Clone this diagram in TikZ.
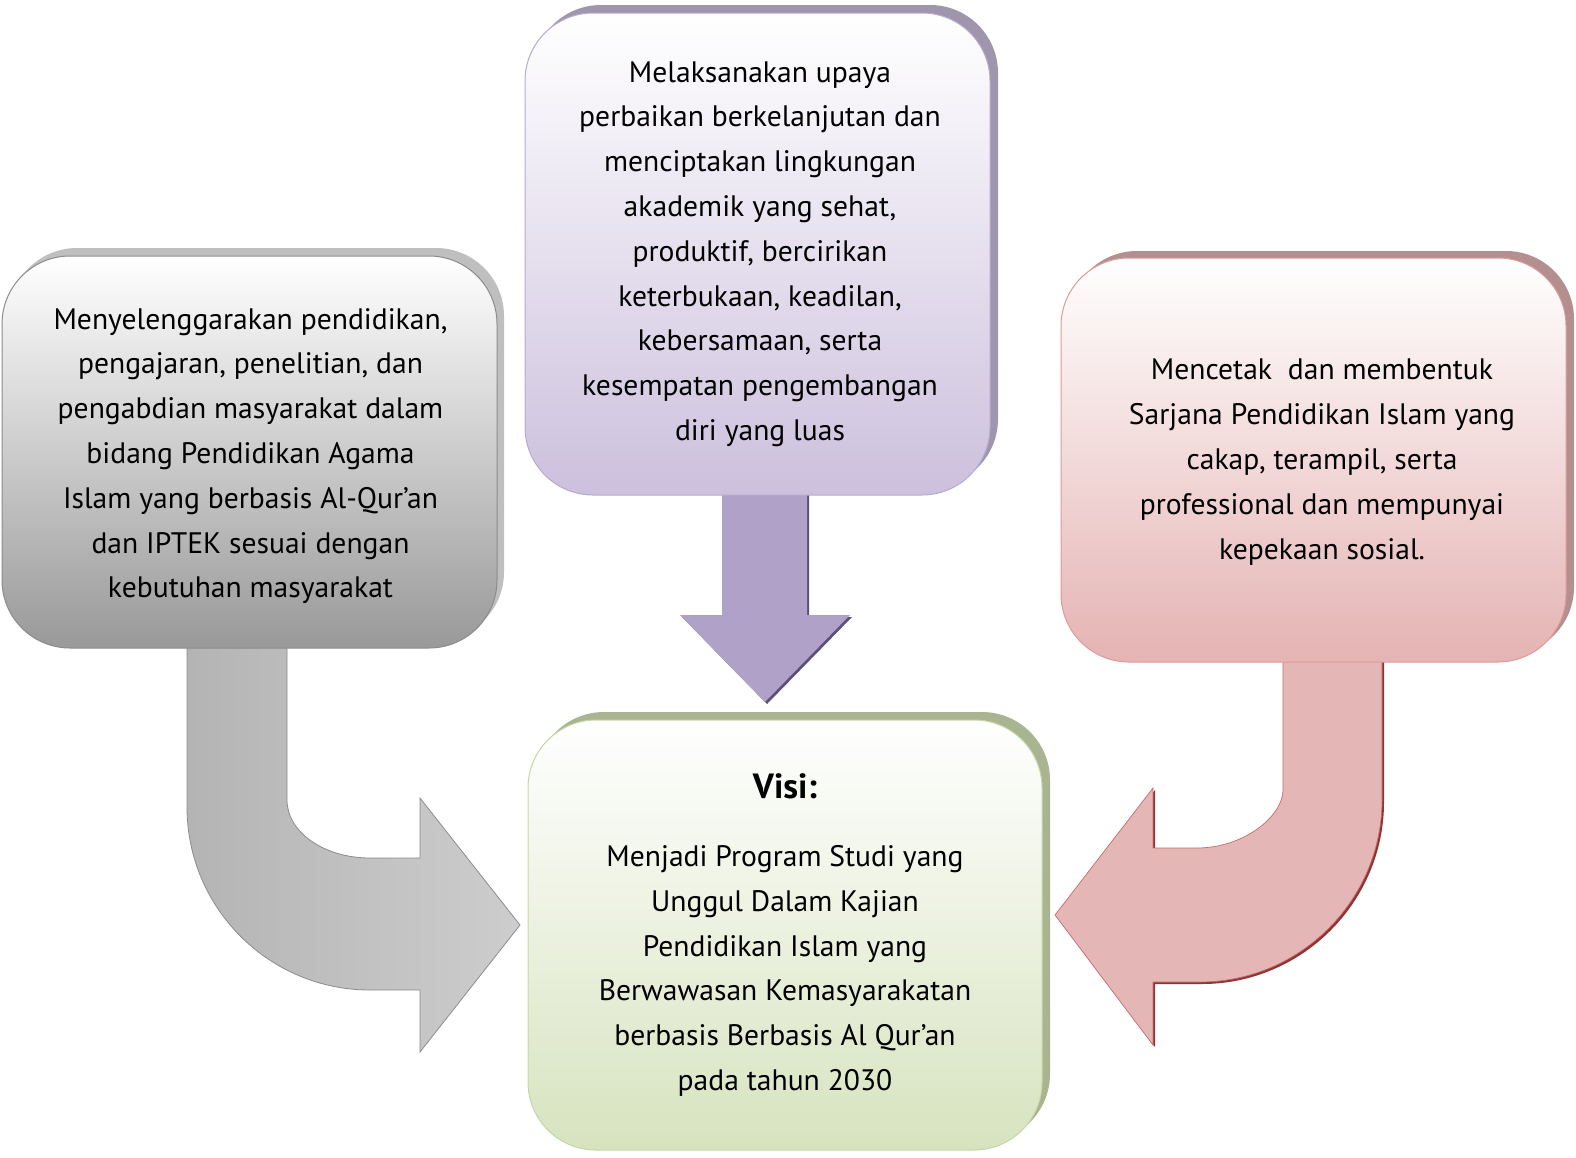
\documentclass[tikz,border=0pt]{standalone}
\usepackage{fontspec}
\setmainfont{PT Sans}
\definecolor{grayshadow}{HTML}{BFBFBF}
\definecolor{grayborder}{HTML}{8C8C8C}
\definecolor{graybottom}{HTML}{999999}
\definecolor{purpshadow}{HTML}{9F95AC}
\definecolor{purpborder}{HTML}{B8A9CF}
\definecolor{purpbottom}{HTML}{CCC0DD}
\definecolor{purparrow}{HTML}{B0A1C8}
\definecolor{purpedge}{HTML}{5E4E78}
\definecolor{pinkshadow}{HTML}{B38F8F}
\definecolor{pinkborder}{HTML}{E09A9A}
\definecolor{pinkbottom}{HTML}{E5B3B3}
\definecolor{pinkarrow}{HTML}{E5B6B6}
\definecolor{pinkedge}{HTML}{8E3434}
\definecolor{pinkline}{HTML}{C86A6A}
\definecolor{greenshadow}{HTML}{A9B591}
\definecolor{greenborder}{HTML}{C5D6A6}
\definecolor{greenbottom}{HTML}{D7E3BF}
\definecolor{grayarrowA}{HTML}{B4B4B4}
\definecolor{grayarrowB}{HTML}{CDCDCD}
\tikzset{
  boxshape/.style={rounded corners=68pt, line width=1pt},
  txt/.style={align=center, inner sep=0pt, font=\fontsize{29.6}{44.8}\selectfont},
}
\begin{document}
\begin{tikzpicture}[x=1pt,y=-1pt]
\useasboundingbox (0,0) rectangle (1576,1157);
% ---------- arrows ----------
% gray bent arrow
\shade[left color=grayarrowA, right color=grayarrowB, draw=grayborder, line width=0.8pt]
  (187,640) -- (287,640) -- (287,800) .. controls (287,832) and (324,858) .. (370,858)
  -- (420,858) -- (420,798) -- (520,925) -- (420,1052) -- (420,990) -- (370,990)
  .. controls (269,990) and (187,908) .. (187,807) -- cycle;
% purple down arrow
\fill[purpedge] (724,490) -- (809,490) -- (809,617) -- (852,617) -- (767,704) -- (682,617) -- (724,617) -- cycle;
\fill[purparrow] (722,490) -- (807,490) -- (807,615) -- (850,615) -- (765,702) -- (680,615) -- (722,615) -- cycle;
% pink bent arrow
\fill[pinkedge]
  (1285,655) -- (1384,655) -- (1384,802) .. controls (1384,902) and (1302,984) .. (1202,984)
  -- (1155,984) -- (1155,1047) -- (1057,917) -- (1155,790) -- (1155,850) -- (1199,850)
  .. controls (1246,850) and (1285,818) .. (1285,792) -- cycle;
\path[fill=pinkarrow, draw=pinkline, line width=0.7pt]
  (1283,655) -- (1382,655) -- (1382,800) .. controls (1382,900) and (1300,982) .. (1200,982)
  -- (1153,982) -- (1153,1045) -- (1055,915) -- (1153,788) -- (1153,848) -- (1197,848)
  .. controls (1244,848) and (1283,816) .. (1283,790) -- cycle;
% ---------- boxes ----------
% left gray
\fill[grayshadow, boxshape] (9,248) rectangle (504,640);
\shade[boxshape, top color=white, bottom color=graybottom, draw=grayborder] (2,256) rectangle (497,648);
% middle purple
\fill[purpshadow, boxshape] (533,5) rectangle (998,487);
\shade[boxshape, top color=white, bottom color=purpbottom, draw=purpborder] (525,13) rectangle (990,495);
% right pink
\fill[pinkshadow, boxshape] (1069,251) rectangle (1574,655);
\shade[boxshape, top color=white, bottom color=pinkbottom, draw=pinkborder] (1061,258) rectangle (1566,662);
% bottom green
\fill[greenshadow, boxshape] (536,712) rectangle (1050,1142);
\shade[boxshape, top color=white, bottom color=greenbottom, draw=greenborder] (528,720) rectangle (1042,1150);
% ---------- texts ----------
\node[txt] (misi1) at (250.5,456) {Menyelenggarakan pendidikan,\\pengajaran, penelitian, dan\\pengabdian masyarakat dalam\\bidang Pendidikan Agama\\Islam yang berbasis Al-Qur’an\\dan IPTEK sesuai dengan\\kebutuhan masyarakat};
\node[txt] (misi2) at (760,254) {Melaksanakan upaya\\perbaikan berkelanjutan dan\\menciptakan lingkungan\\akademik yang sehat,\\produktif, bercirikan\\keterbukaan, keadilan,\\kebersamaan, serta\\kesempatan pengembangan\\diri yang luas};
\node[txt] (misi3) at (1322,462) {Mencetak\ \ dan membentuk\\Sarjana Pendidikan Islam yang\\cakap, terampil, serta\\professional dan mempunyai\\kepekaan sosial.};
\node[inner sep=0pt, font=\fontsize{35}{40}\selectfont\bfseries] (visititle) at (785,786) {Visi:};
\node[txt] (visi) at (785,971) {Menjadi Program Studi yang\\Unggul Dalam Kajian\\Pendidikan Islam yang\\Berwawasan Kemasyarakatan\\berbasis Berbasis Al Qur’an\\pada tahun 2030};
\end{tikzpicture}
\end{document}
